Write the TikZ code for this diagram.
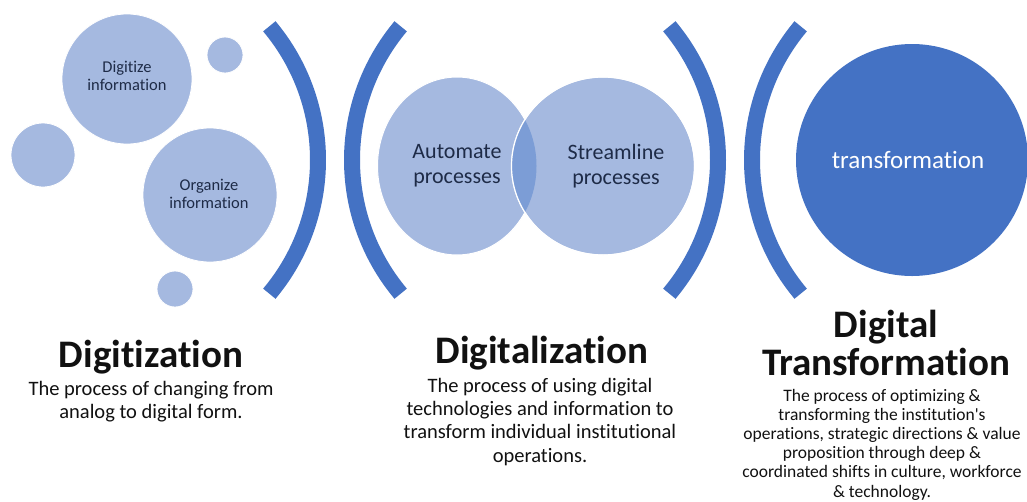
\documentclass[tikz,border=0pt]{standalone}
\usepackage{fontspec}
\setmainfont{Carlito}[Ligatures={NoCommon}]
\usetikzlibrary{shapes.geometric}
\definecolor{lightblue}{HTML}{A5B9E0}
\definecolor{lensblue}{HTML}{7C9DD6}
\definecolor{deepblue}{HTML}{4472C4}
\definecolor{navytext}{HTML}{1E2B47}
\definecolor{headtext}{HTML}{111111}
\begin{document}
\begin{tikzpicture}[x=1pt,y=-1pt,
  bubble/.style={circle,fill=lightblue,draw=white,line width=0.8pt,inner sep=0pt},
  bubbletext/.style={text=navytext,align=center,inner sep=0pt,font=\fontsize{16.5}{18}\selectfont},
  venn/.style={ellipse,fill=lightblue,draw=white,line width=1pt,inner sep=0pt},
  bracket/.style={draw=deepblue,line width=16pt},
  heading/.style={text=headtext,font=\fontsize{39}{38}\selectfont\bfseries,align=center,inner sep=0pt,anchor=base},
  desc/.style={text=headtext,align=center,inner sep=0pt,anchor=base},
  vtext/.style={text=navytext,font=\fontsize{22}{25}\selectfont,align=center,inner sep=0pt}]
\useasboundingbox[fill=white] (0,0) rectangle (1027,501);

% Digitization bubbles
\node[bubble,minimum size=130pt] (digitize) at (127,79) {};
\node[bubbletext] (digitizetxt) at (127,76) {Digitize\\information};
\node[bubble,minimum size=36pt] (dotA) at (225,55) {};
\node[bubble,minimum size=64pt] (dotB) at (43,155) {};
\node[bubble,minimum size=134pt] (organize) at (210,195) {};
\node[bubbletext] (organizetxt) at (209,193.5) {Organize\\information};
\node[bubble,minimum size=36pt] (dotC) at (175,289) {};

% Separating brackets
\draw[bracket] (110,160) ++(-40:208) arc[start angle=-40,end angle=40,radius=208];
\draw[bracket] (560,160) ++(140:208) arc[start angle=140,end angle=220,radius=208];
\draw[bracket] (510,160) ++(-40:208) arc[start angle=-40,end angle=40,radius=208];
\draw[bracket] (960,160) ++(140:208) arc[start angle=140,end angle=220,radius=208];

% Digitalization Venn diagram
\node[venn,minimum width=159pt,minimum height=178pt] (automate) at (457,166) {};
\node[venn,minimum width=183pt,minimum height=178pt] (streamline) at (603,166) {};
\begin{scope}
  \clip (457,166) ellipse[x radius=79.5,y radius=89];
  \fill[lensblue] (603,166) ellipse[x radius=91.5,y radius=89];
\end{scope}
\draw[white,line width=1.2pt] (603,166) ellipse[x radius=91.5,y radius=89];
\node[vtext] (automatetxt) at (457,166) {Automate\\processes};
\node[vtext] (streamlinetxt) at (616,166) {Streamline\\processes};

% Digital transformation circle
\node[circle,fill=deepblue,minimum size=232pt,inner sep=0pt] (transform) at (912,160) {};
\node[text=white,inner sep=0pt,font=\fontsize{25}{28}\selectfont] (transformtxt) at (908,160) {transformation};

% Captions (anchored at the baseline of the last line)
\node[heading] (h1) at (151,367) {Digitization};
\node[desc,font=\fontsize{20.5}{23}\selectfont] (d1) at (151,418)
  {The process of changing from\\analog to digital form.};

\node[heading] (h2) at (542,363) {Digitalization};
\node[desc,font=\fontsize{20.5}{23.3}\selectfont] (d2) at (540,462)
  {The process of using digital\\technologies and information to\\transform individual institutional\\operations.};

\node[heading] (h3) at (886,375) {Digital\\Transformation};
\node[desc,font=\fontsize{17.5}{19.2}\selectfont] (d3) at (882,497)
  {The process of optimizing \&\\transforming the institution\textquotesingle s\\operations, strategic directions \& value\\proposition through deep \&\\coordinated shifts in culture, workforce\\\& technology.};
\end{tikzpicture}
\end{document}
